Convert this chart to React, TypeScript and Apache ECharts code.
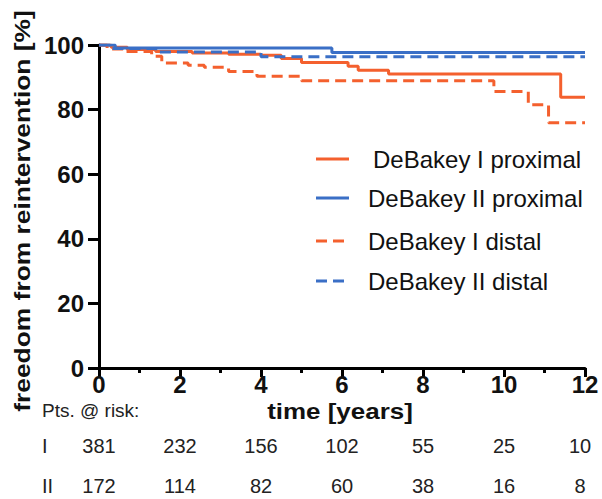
import React, { useEffect, useRef } from "react";
import * as echarts from "echarts";

// ---- data ----
const riskYears = [0, 2, 4, 6, 8, 10, 12];
const riskI = [381, 232, 156, 102, 55, 25, 10];
const riskII = [172, 114, 82, 60, 38, 16, 8];

const names = [
  "DeBakey I proximal",
  "DeBakey II proximal",
  "DeBakey I distal",
  "DeBakey II distal",
];

const proxI_t = [0, 0.3, 0.7, 1.4, 2.3, 3.2, 4.0, 4.5, 5.0, 6.15, 6.4, 7.15, 11.4, 12];
const proxI_v = [100, 99.3, 98.6, 98.0, 97.5, 97.1, 96.8, 95.8, 94.6, 93.4, 92.2, 91.0, 83.8, 83.8];

const proxII_t = [0, 0.4, 5.75, 12];
const proxII_v = [100, 99.1, 97.7, 97.7];

const distI_t = [0, 0.2, 0.6, 1.3, 1.55, 2.2, 2.6, 3.2, 3.9, 5.0, 9.75, 10.6, 11.1, 12];
const distI_v = [100, 98.8, 98.0, 96.5, 94.4, 93.7, 93.1, 91.8, 90.3, 88.9, 85.6, 81.5, 75.9, 75.9];

const distII_t = [0, 0.3, 1.4, 4.0, 12];
const distII_v = [100, 98.9, 97.8, 96.4, 96.4];

const ORANGE = "#F4602E";
const BLUE = "#3A6FC6";

function pairs(t: number[], v: number[]) {
  return t.map((x, i) => [x, v[i]]);
}

export default function App() {
  const ref = useRef<HTMLDivElement>(null);
  useEffect(() => {
    if (!ref.current) return;
    const chart = echarts.init(ref.current, undefined, { renderer: "svg" });
    const font = "'Liberation Sans', Arial, sans-serif";
    const axisLine = { show: true, onZero: false, lineStyle: { color: "#000", width: 3 } };
    const labelStyle = { color: "#111", fontSize: 24, fontWeight: "bold" as const, fontFamily: font };
    const colors = [ORANGE, BLUE, ORANGE, BLUE];
    const dashed = [false, false, true, true];
    const dash = [11, 6];
    const mk = (i: number, t: number[], v: number[]) => ({
      name: names[i],
      type: "line" as const,
      step: "end" as const,
      data: pairs(t, v),
      symbol: "none",
      lineStyle: { color: colors[i], width: 3, type: dashed[i] ? dash : "solid" },
      itemStyle: { color: colors[i] },
      z: dashed[i] ? 3 : 2,
    });
    chart.setOption({
      animation: false,
      backgroundColor: "#fff",
      grid: { left: 99, right: 17, top: 45, bottom: 131, containLabel: false },
      xAxis: {
        type: "value",
        min: 0,
        max: 12,
        interval: 2,
        axisLine,
        splitLine: { show: false },
        axisTick: { show: true, inside: false, length: 9, lineStyle: { color: "#000", width: 3 } },
        minorTick: { show: true, splitNumber: 2, length: 5, lineStyle: { color: "#000", width: 3 } },
        axisLabel: { ...labelStyle, margin: 4 },
      },
      yAxis: {
        type: "value",
        min: 0,
        max: 100,
        interval: 20,
        axisLine,
        splitLine: { show: false },
        axisTick: { show: true, inside: false, length: 11, lineStyle: { color: "#000", width: 3 } },
        axisLabel: { ...labelStyle, margin: 15 },
      },
      series: [
        mk(0, proxI_t, proxI_v),
        mk(1, proxII_t, proxII_v),
        mk(2, distI_t, distI_v),
        mk(3, distII_t, distII_v),
      ],
    });

    const textStyle = { fill: "#222", fontSize: 20, fontFamily: font };
    const elements: any[] = [
      {
        type: "text",
        x: 22,
        y: 211,
        rotation: Math.PI / 2,
        scaleX: 1.2,
        style: { text: "freedom from reintervention [%]", fill: "#111", fontSize: 22, fontWeight: "bold", fontFamily: font, align: "center", verticalAlign: "middle" },
      },
      {
        type: "text",
        x: (chart.convertToPixel({ xAxisIndex: 0 }, 6) as number) - 2,
        y: 411,
        scaleX: 1.18,
        style: { text: "time [years]", fill: "#111", fontSize: 22, fontWeight: "bold", fontFamily: font, align: "center", verticalAlign: "middle" },
      },
      { type: "text", x: 42, y: 410, style: { ...textStyle, text: "Pts. @ risk:", fontSize: 19, verticalAlign: "middle" } },
      { type: "text", x: 42, y: 446, style: { ...textStyle, text: "I", verticalAlign: "middle" } },
      { type: "text", x: 42, y: 486, style: { ...textStyle, text: "II", verticalAlign: "middle" } },
    ];
    riskYears.forEach((yr, i) => {
      const px = chart.convertToPixel({ xAxisIndex: 0 }, yr) as number;
      const shift = i === riskYears.length - 1 ? -5 : 0;
      elements.push({ type: "text", x: px + shift, y: 446, style: { ...textStyle, text: String(riskI[i]), align: "center", verticalAlign: "middle" } });
      elements.push({ type: "text", x: px + shift, y: 486, style: { ...textStyle, text: String(riskII[i]), align: "center", verticalAlign: "middle" } });
    });
    // legend
    const legY = [159, 198, 241, 281];
    const legTextX = [373, 368, 368, 368];
    names.forEach((n, i) => {
      elements.push({
        type: "line",
        shape: { x1: 316, y1: legY[i], x2: 349, y2: legY[i] },
        style: { stroke: colors[i], lineWidth: 3, lineDash: dashed[i] ? dash : null },
      });
      elements.push({
        type: "text",
        x: legTextX[i],
        y: legY[i],
        style: { text: n, fill: "#111", fontSize: 24, fontFamily: font, verticalAlign: "middle" },
      });
    });
    chart.setOption({ graphic: { elements } });
    return () => chart.dispose();
  }, []);
  return <div ref={ref} style={{ width: 602, height: 499, position: "absolute", left: 0, top: 0 }} />;
}
